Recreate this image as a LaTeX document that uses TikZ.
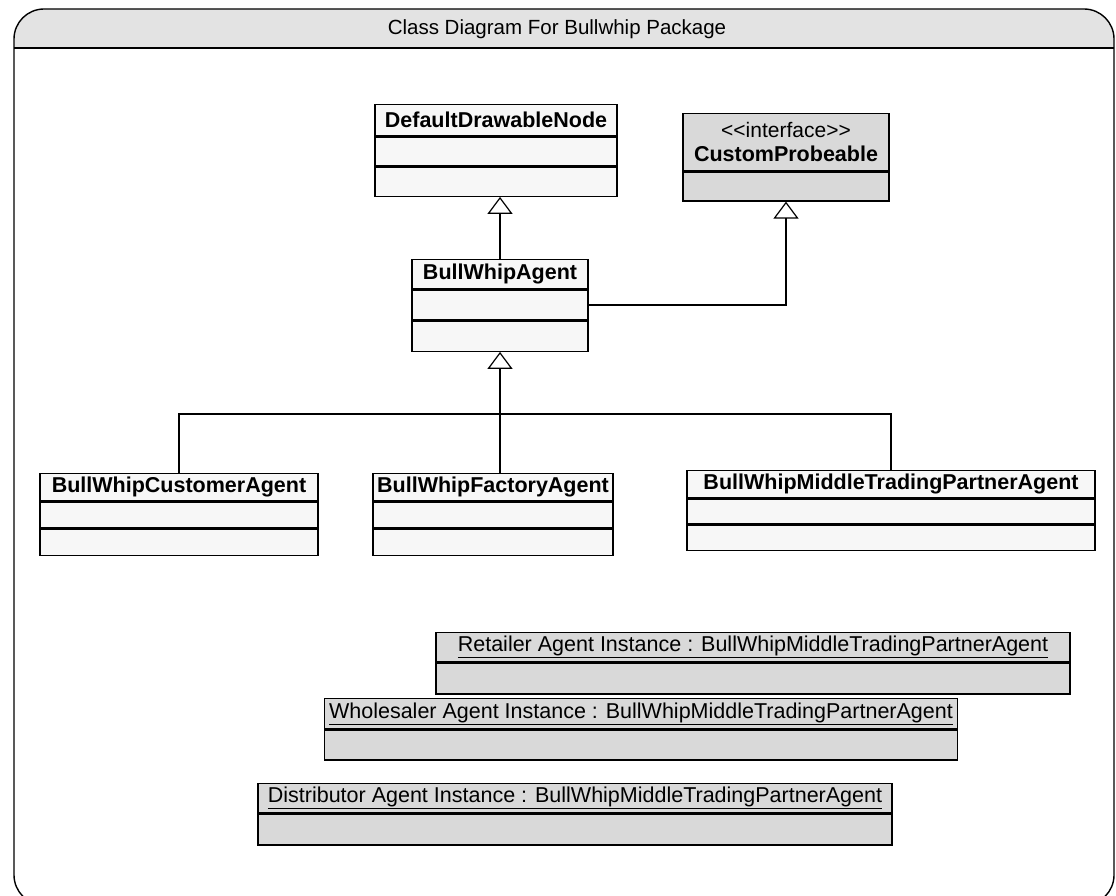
\documentclass[tikz,border=0pt]{standalone}
\usepackage{fontspec}
\setmainfont{Liberation Sans}
\usetikzlibrary{positioning,arrows.meta}

\tikzset{
  classhead/.style={draw, line width=1.3pt, fill=gray!6, anchor=north, inner sep=0pt,
    font=\bfseries\fontsize{21.5}{24}\selectfont},
  classrow/.style={draw, line width=1.3pt, fill=gray!6, inner sep=0pt},
  instance/.style={draw, line width=1.3pt, fill=gray!30, anchor=north, inner sep=0pt,
    font=\fontsize{21.5}{24}\selectfont},
  inherit/.style={-{Triangle[open,length=17pt,width=25pt]}, line width=1.2pt},
  link/.style={line width=1.2pt}
}

\begin{document}
\begin{tikzpicture}[x=1pt,y=-1pt]
        \useasboundingbox (0,0) rectangle (1116,896);
        % Package frame with grey title band
        \begin{scope}
          \clip (0,0) rectangle (1116,48);
          \fill[gray!22, rounded corners=30] (14,9) rectangle (1114,905);
        \end{scope}
        \draw[line width=1.4pt, rounded corners=30] (14,9) rectangle (1114,905);
        \draw[line width=1.4pt] (14,48) -- (1114,48);
        \node[font=\fontsize{20.5}{23}\selectfont] (title) at (557,29) {Class Diagram For Bullwhip Package};

        % DefaultDrawableNode
        \node[classhead, minimum width=242, minimum height=31] (ddnhead) at (496,104) {DefaultDrawableNode};
        \node[classrow, minimum width=242, minimum height=29, below=0pt of ddnhead] (ddnattr) {};
        \node[classrow, minimum width=242, minimum height=29, below=0pt of ddnattr] (ddnops) {};

        % CustomProbeable (interface)
        \node[classhead, fill=gray!30, minimum width=206, minimum height=57, align=center] (cphead) at (786,113)
          {\normalfont\fontsize{21}{27}\selectfont <\kern0pt<interface>\kern0pt>\\CustomProbeable};
        \node[classrow, fill=gray!30, minimum width=206, minimum height=29, below=0pt of cphead] (cpops) {};

        % BullWhipAgent
        \node[classhead, minimum width=176, minimum height=29] (agenthead) at (500,259) {BullWhipAgent};
        \node[classrow, minimum width=176, minimum height=30, below=0pt of agenthead] (agentattr) {};
        \node[classrow, minimum width=176, minimum height=30, below=0pt of agentattr] (agentops) {};

        % Subclasses
        \node[classhead, minimum width=278, minimum height=27] (custhead) at (179,473) {BullWhipCustomerAgent};
        \node[classrow, minimum width=278, minimum height=26, below=0pt of custhead] (custattr) {};
        \node[classrow, minimum width=278, minimum height=26, below=0pt of custattr] (custops) {};

        \node[classhead, minimum width=240, minimum height=27] (facthead) at (493,473) {BullWhipFactoryAgent};
        \node[classrow, minimum width=240, minimum height=26, below=0pt of facthead] (factattr) {};
        \node[classrow, minimum width=240, minimum height=26, below=0pt of factattr] (factops) {};

        \node[classhead, minimum width=408, minimum height=27] (midhead) at (891,470) {BullWhipMiddleTradingPartnerAgent};
        \node[classrow, minimum width=408, minimum height=25, below=0pt of midhead] (midattr) {};
        \node[classrow, minimum width=408, minimum height=25, below=0pt of midattr] (midops) {};

        % Instances
        \node[instance, minimum width=634, minimum height=29] (retail) at (753,632)
          {\underline{Retailer Agent Instance : BullWhipMiddleTradingPartnerAgent}};
        \node[classrow, fill=gray!30, minimum width=634, minimum height=31, below=0pt of retail] (retailbody) {};

        \node[instance, minimum width=633, minimum height=30] (whole) at (641,698)
          {\underline{Wholesaler Agent Instance : BullWhipMiddleTradingPartnerAgent}};
        \node[classrow, fill=gray!30, minimum width=633, minimum height=30, below=0pt of whole] (wholebody) {};

        \node[instance, minimum width=634, minimum height=29] (distr) at (575,783)
          {\underline{Distributor Agent Instance : BullWhipMiddleTradingPartnerAgent}};
        \node[classrow, fill=gray!30, minimum width=634, minimum height=31, below=0pt of distr] (distrbody) {};

        % Generalisations
        \draw[inherit] (agenthead.north) -- (agenthead.north |- ddnops.south);
        \draw[inherit] (agentattr.east) -| (cpops.south);
        \coordinate (fork) at (agentops.south |- 0,414);
        \draw[link] (custhead.north) |- (fork) -| (midhead.north);
        \draw[inherit] (facthead.north -| fork) -- (agentops.south);
\end{tikzpicture}
\end{document}
